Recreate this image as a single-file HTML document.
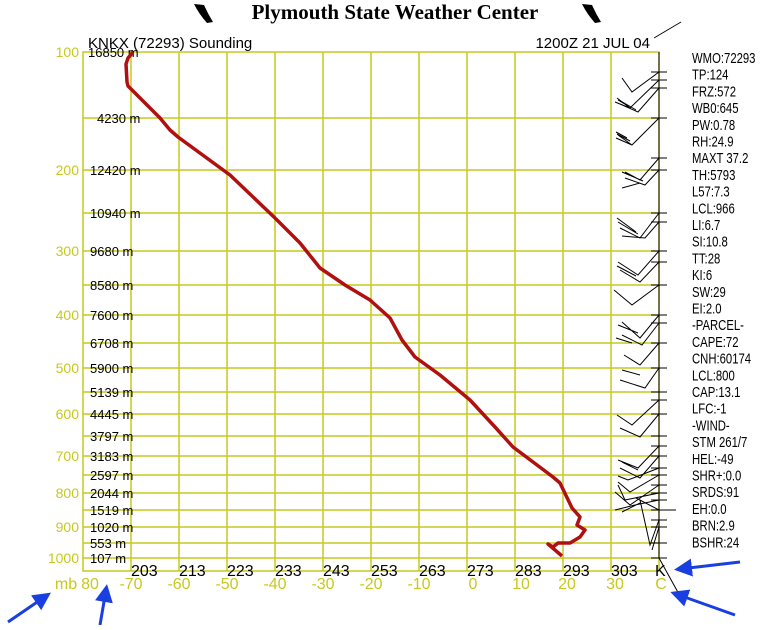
<!DOCTYPE html>
<html><head><style>
body{margin:0;width:768px;height:625px;background:#fff;overflow:hidden;}
svg text{font-family:"Liberation Sans",sans-serif;}
</style></head><body>
<svg width="768" height="625" viewBox="0 0 768 625" xmlns="http://www.w3.org/2000/svg">
<defs><marker id="ah" markerWidth="6" markerHeight="6" refX="4" refY="3" orient="auto"><path d="M0,0 L6,3 L0,6 z" fill="#1a3fe0"/></marker></defs>
<!-- title -->
<text x="395" y="19" font-weight="bold" font-size="21" text-anchor="middle" style="font-family:'Liberation Serif',serif">Plymouth State Weather Center</text>
<path d="M194,4 L204,5 Q208,14 213,22 L207,23 Q199,14 194,4 Z" fill="#000"/>
<path d="M582,4 L592,5 Q596,14 601,22 L595,23 Q587,14 582,4 Z" fill="#000"/>
<!-- grid -->
<g stroke="#c8c81e" stroke-width="1.5" fill="none">
<rect x="83" y="52" width="576" height="519"/>
<line x1="131" y1="52" x2="131" y2="571"/><line x1="179" y1="52" x2="179" y2="571"/><line x1="227" y1="52" x2="227" y2="571"/><line x1="275" y1="52" x2="275" y2="571"/><line x1="323" y1="52" x2="323" y2="571"/><line x1="371" y1="52" x2="371" y2="571"/><line x1="419" y1="52" x2="419" y2="571"/><line x1="467" y1="52" x2="467" y2="571"/><line x1="515" y1="52" x2="515" y2="571"/><line x1="563" y1="52" x2="563" y2="571"/><line x1="611" y1="52" x2="611" y2="571"/>
<line x1="83" y1="118" x2="659" y2="118"/><line x1="83" y1="170" x2="659" y2="170"/><line x1="83" y1="213" x2="659" y2="213"/><line x1="83" y1="251" x2="659" y2="251"/><line x1="83" y1="285" x2="659" y2="285"/><line x1="83" y1="315" x2="659" y2="315"/><line x1="83" y1="343" x2="659" y2="343"/><line x1="83" y1="368" x2="659" y2="368"/><line x1="83" y1="392" x2="659" y2="392"/><line x1="83" y1="414" x2="659" y2="414"/><line x1="83" y1="436" x2="659" y2="436"/><line x1="83" y1="456" x2="659" y2="456"/><line x1="83" y1="475" x2="659" y2="475"/><line x1="83" y1="493" x2="659" y2="493"/><line x1="83" y1="510" x2="659" y2="510"/><line x1="83" y1="527" x2="659" y2="527"/><line x1="83" y1="543" x2="659" y2="543"/><line x1="83" y1="558" x2="659" y2="558"/>
</g>
<!-- pressure labels -->
<g fill="#c8c81e" font-size="14" text-anchor="end">
<text x="79" y="57">100</text><text x="79" y="175">200</text><text x="79" y="256">300</text><text x="79" y="320">400</text><text x="79" y="373">500</text><text x="79" y="419">600</text><text x="79" y="461">700</text><text x="79" y="498">800</text><text x="79" y="532">900</text><text x="79" y="563">1000</text>
</g>
<!-- height labels -->
<g fill="#000" font-size="13">
<text x="88" y="57">16850 m</text><text x="97" y="123">4230 m</text><text x="90" y="175">12420 m</text><text x="90" y="218">10940 m</text><text x="90" y="256">9680 m</text><text x="90" y="290">8580 m</text><text x="90" y="320">7600 m</text><text x="90" y="348">6708 m</text><text x="90" y="373">5900 m</text><text x="90" y="397">5139 m</text><text x="90" y="419">4445 m</text><text x="90" y="441">3797 m</text><text x="90" y="461">3183 m</text><text x="90" y="480">2597 m</text><text x="90" y="498">2044 m</text><text x="90" y="515">1519 m</text><text x="90" y="532">1020 m</text><text x="90" y="548">553 m</text><text x="90" y="563">107 m</text>
</g>
<text x="88" y="48" font-size="15">KNKX (72293) Sounding</text>
<text x="650" y="48" font-size="15" text-anchor="end">1200Z 21 JUL 04</text>
<!-- K labels -->
<g font-size="16" fill="#000">
<text x="131" y="576">203</text><text x="179" y="576">213</text><text x="227" y="576">223</text><text x="275" y="576">233</text><text x="323" y="576">243</text><text x="371" y="576">253</text><text x="419" y="576">263</text><text x="467" y="576">273</text><text x="515" y="576">283</text><text x="563" y="576">293</text><text x="611" y="576">303</text><text x="655" y="576">K</text>
</g>
<!-- C labels -->
<g font-size="16" fill="#c8c81e" text-anchor="middle">
<text x="66" y="589">mb</text><text x="90" y="589">80</text><text x="131" y="589">-70</text><text x="179" y="589">-60</text><text x="227" y="589">-50</text><text x="275" y="589">-40</text><text x="323" y="589">-30</text><text x="371" y="589">-20</text><text x="419" y="589">-10</text><text x="473" y="589">0</text><text x="521" y="589">10</text><text x="567" y="589">20</text><text x="615" y="589">30</text><text x="661" y="589">C</text>
</g>
<!-- temperature -->
<polyline fill="none" stroke="#b01010" stroke-width="3.5" stroke-linejoin="round" points="133,52 128,58 126,64 127,82 128,86 160,118 170,130 178,137 230,175 275,218 300,243 320,268 345,285 370,300 390,318 402,340 415,357 440,375 470,400 495,427 513,447 553,477 560,483 572,508 580,517 577,525 585,530 580,537 570,543 558,543 553,547 548,544 562,556"/>
<!-- wind staff -->
<g stroke="#000" stroke-width="1" fill="none">
<line x1="654" y1="38" x2="681" y2="22"/>
<line x1="659" y1="52" x2="659" y2="558"/>
<line x1="659" y1="558" x2="680" y2="596"/>
<path d="M651,72h16M651,80h16M651,88h16M651,118h16M651,158h16M651,170h16M651,213h16M651,222h16M651,251h16M651,262h16M651,285h16M651,315h16M651,323h16M651,343h16M651,368h16M651,392h16M651,400h16M651,414h16M651,436h16M651,446h16M651,456h16M651,468h16M651,475h16M651,485h16M651,493h16M651,500h16M651,510h16M651,520h16M651,527h16M651,543h16M651,558h16M666,510h10"/>
<path d="M659,72 L632,92 L622,78 M659,80 L630,108 L617,98 M630,108 L615,102 M628,106 L618,100 M659,88 L638,112 L620,104 M636,110 L619,100"/>
<path d="M659,118 L632,145 L618,135 M632,145 L616,138 M630,141 L617,134 M627,138 L616,132"/>
<path d="M659,158 L640,180 L625,172 M659,170 L645,185 L625,178 M643,181 L622,172 M640,183 L622,188"/>
<path d="M659,213 L640,238 L620,228 M659,222 L645,238 L622,236 M638,234 L618,222 M636,232 L617,218"/>
<path d="M659,251 L638,275 L618,262 M659,262 L640,282 L620,270 M636,276 L617,266"/>
<path d="M659,285 L632,305 L614,290"/>
<path d="M659,315 L640,338 L622,322 M659,323 L642,345 L622,335 M638,333 L618,325 M632,343 L616,338"/>
<path d="M659,343 L640,365 L624,355 M659,368 L645,388 L620,380 M640,375 L622,370"/>
<path d="M659,400 L632,425 L617,415 M659,414 L640,437 L620,428"/>
<path d="M659,446 L638,468 L618,460 M659,456 L640,478 L620,468 M659,468 L628,480 L618,476 M638,470 L622,462"/>
<path d="M659,475 L630,492 L618,482 M659,485 L630,505 L615,492 M659,493 L625,500 L618,485 M659,500 L635,505 L615,510 M640,503 L622,512 M659,510 L636,498 M659,520 L650,545 L640,500 M659,527 L652,550"/>
</g>
<!-- stats -->
<g font-size="14.5" fill="#000" transform="translate(692,0) scale(0.78,1)">
<text x="0" y="63">WMO:72293</text><text x="0" y="79.7">TP:124</text><text x="0" y="96.4">FRZ:572</text><text x="0" y="113.1">WB0:645</text><text x="0" y="129.8">PW:0.78</text><text x="0" y="146.5">RH:24.9</text><text x="0" y="163.2">MAXT 37.2</text><text x="0" y="179.9">TH:5793</text><text x="0" y="196.6">L57:7.3</text><text x="0" y="213.3">LCL:966</text><text x="0" y="230">LI:6.7</text><text x="0" y="246.7">SI:10.8</text><text x="0" y="263.4">TT:28</text><text x="0" y="280.1">KI:6</text><text x="0" y="296.8">SW:29</text><text x="0" y="313.5">EI:2.0</text><text x="0" y="330.2">-PARCEL-</text><text x="0" y="346.9">CAPE:72</text><text x="0" y="363.6">CNH:60174</text><text x="0" y="380.3">LCL:800</text><text x="0" y="397">CAP:13.1</text><text x="0" y="413.7">LFC:-1</text><text x="0" y="430.4">-WIND-</text><text x="0" y="447.1">STM 261/7</text><text x="0" y="463.8">HEL:-49</text><text x="0" y="480.5">SHR+:0.0</text><text x="0" y="497.2">SRDS:91</text><text x="0" y="513.9">EH:0.0</text><text x="0" y="530.6">BRN:2.9</text><text x="0" y="547.3">BSHR:24</text>
</g>
<!-- arrows -->
<g stroke="#1a3fe0" stroke-width="3" marker-end="url(#ah)">
<line x1="740" y1="562" x2="680" y2="569"/>
<line x1="735" y1="615" x2="676" y2="594"/>
<line x1="8" y1="622" x2="46" y2="596"/>
<line x1="100" y1="625" x2="106" y2="590"/>
</g>
</svg>
</body></html>
